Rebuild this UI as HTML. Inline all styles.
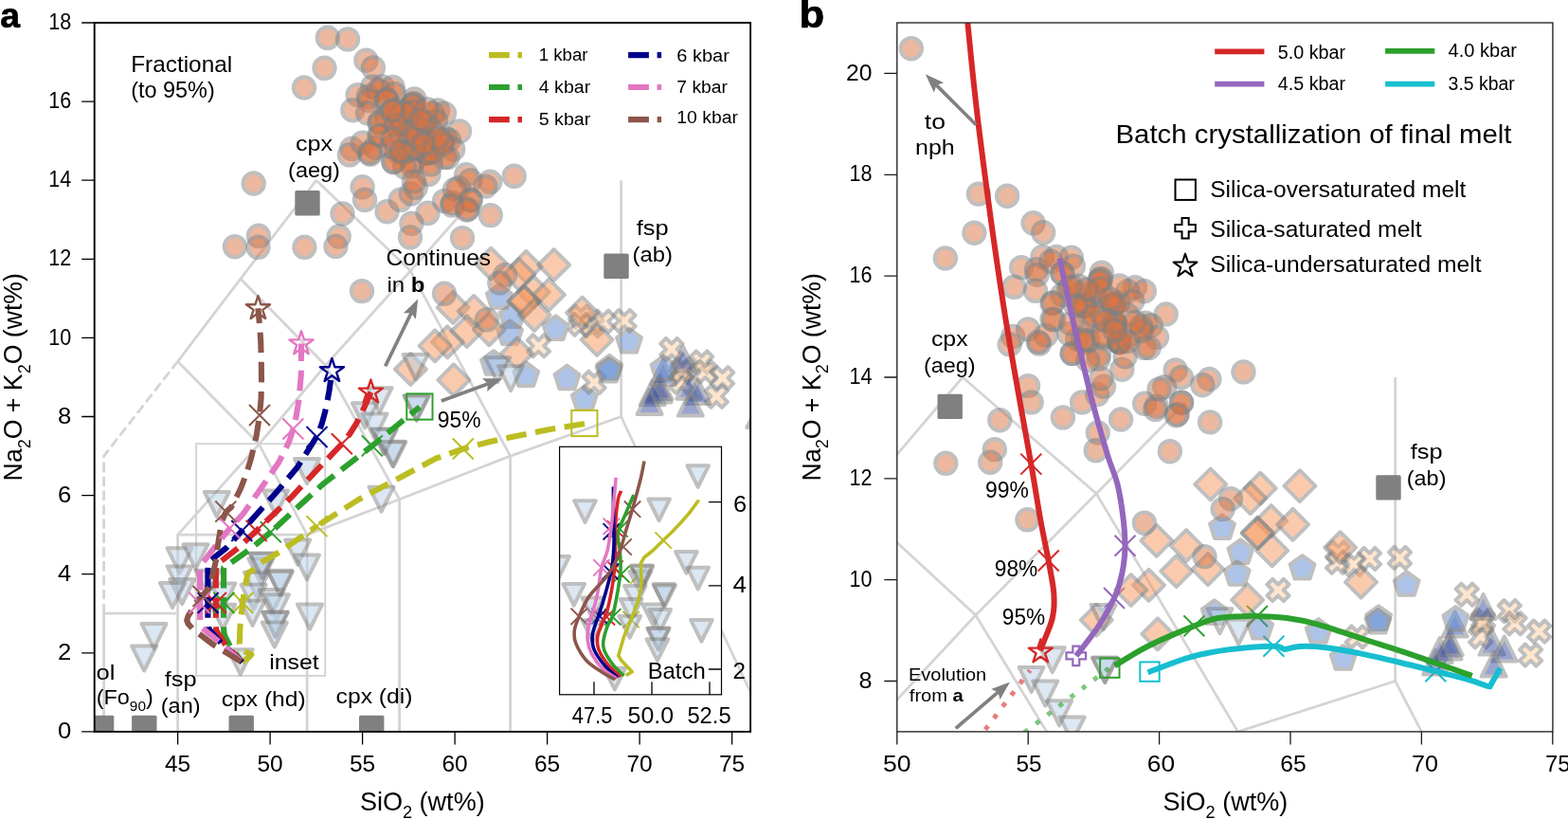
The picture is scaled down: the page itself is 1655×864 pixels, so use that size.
<!DOCTYPE html>
<html><head><meta charset="utf-8"><title>Figure</title>
<style>
html,body{margin:0;padding:0;background:#fff;}
body{width:1655px;height:864px;overflow:hidden;}
svg{display:block;font-family:'Liberation Sans', Arial, Helvetica, sans-serif;fill:#000;}
</style></head>
<body>
<svg width="1655" height="864" viewBox="0 0 1655 864">
<defs>
<circle id="mo" r="11.2" fill="#db7341" stroke="#808080" stroke-width="4.0"/>
<path id="mD" d="M0.00,-16.45L16.45,-0.00L0.00,16.45L-16.45,0.00Z" fill="#f9975b" stroke="#808080" stroke-width="4.0" stroke-linejoin="round"/>
<path id="mp" d="M0.00,-13.60L12.93,-4.20L7.99,11.00L-7.99,11.00L-12.93,-4.20Z" fill="#5d89d1" stroke="#808080" stroke-width="4.0" stroke-linejoin="round"/>
<path id="mX" d="M-5.80,0.00L-11.60,5.80L-5.80,11.60L0.00,5.80L5.80,11.60L11.60,5.80L5.80,0.00L11.60,-5.80L5.80,-11.60L0.00,-5.80L-5.80,-11.60L-11.60,-5.80Z" fill="#ffcd9d" stroke="#808080" stroke-width="4.0" stroke-linejoin="round"/>
<path id="mv" d="M-13.00,-13.00L13.00,-13.00L0.00,13.00Z" fill="#b9d1e7" stroke="#808080" stroke-width="4.0" stroke-linejoin="round"/>
<path id="mw" d="M-11.30,-11.30L11.30,-11.30L0.00,11.30Z" fill="#b9d1e7" stroke="#808080" stroke-width="4.0" stroke-linejoin="round"/>
<path id="mu" d="M-13.00,13.00L13.00,13.00L0.00,-13.00Z" fill="#374da1" stroke="#808080" stroke-width="4.0" stroke-linejoin="round"/>
<rect id="sq" x="-13.2" y="-13.2" width="26.4" height="26.4" rx="1.5" fill="#808080"/>
<clipPath id="ca"><rect x="99.7" y="24" width="692.4" height="747.9"/></clipPath>
<clipPath id="cb"><rect x="946.8" y="24" width="692.1" height="747.9"/></clipPath>
<clipPath id="ci"><rect x="590.6" y="471.3" width="170.9" height="261.5"/></clipPath>
</defs>
<rect width="1655" height="864" fill="#fff"/>
<g clip-path="url(#ca)">
<path d="M109.6,771.9L109.6,647.2L187.6,647.2" fill="none" stroke="#d4d4d4" stroke-width="2.8" stroke-linejoin="round"/>
<path d="M187.6,771.9L187.6,564.1L324.1,564.1" fill="none" stroke="#d4d4d4" stroke-width="2.8" stroke-linejoin="round"/>
<path d="M324.1,771.9L324.1,564.1" fill="none" stroke="#d4d4d4" stroke-width="2.8" stroke-linejoin="round"/>
<path d="M421.6,771.9L421.6,526.8" fill="none" stroke="#d4d4d4" stroke-width="2.8" stroke-linejoin="round"/>
<path d="M538.6,771.9L538.6,481.1" fill="none" stroke="#d4d4d4" stroke-width="2.8" stroke-linejoin="round"/>
<path d="M187.6,564.1L273.4,468.6L343.6,385.5L433.3,285.8L499.6,211.0" fill="none" stroke="#d4d4d4" stroke-width="2.8" stroke-linejoin="round"/>
<path d="M324.1,564.1L421.6,526.8L538.6,481.1L655.6,439.5" fill="none" stroke="#d4d4d4" stroke-width="2.8" stroke-linejoin="round"/>
<path d="M655.6,190.2L655.6,439.5L811.6,771.9" fill="none" stroke="#d4d4d4" stroke-width="2.8" stroke-linejoin="round"/>
<path d="M187.6,381.3L253.9,294.1L333.9,190.2" fill="none" stroke="#d4d4d4" stroke-width="2.8" stroke-linejoin="round"/>
<path d="M187.6,381.3L273.4,468.6L324.1,564.1" fill="none" stroke="#d4d4d4" stroke-width="2.8" stroke-linejoin="round"/>
<path d="M253.9,294.1L343.6,385.5L421.6,526.8" fill="none" stroke="#d4d4d4" stroke-width="2.8" stroke-linejoin="round"/>
<path d="M333.9,190.2L433.3,285.8L538.6,481.1" fill="none" stroke="#d4d4d4" stroke-width="2.8" stroke-linejoin="round"/>
<path d="M109.6,647.2L109.6,481.1L187.6,381.3" fill="none" stroke="#d4d4d4" stroke-width="2.8" stroke-dasharray="10.4 4.5"/>
<rect x="207.1" y="468.2" width="136.1" height="244.7" fill="none" stroke="#d4d4d4" stroke-width="2"/>
<use href="#mX" x="568.4" y="364.8" opacity="0.5"/>
<use href="#mX" x="613.2" y="334.1" opacity="0.5"/>
<use href="#mX" x="612.4" y="342.2" opacity="0.5"/>
<use href="#mX" x="624.9" y="343.8" opacity="0.5"/>
<use href="#mX" x="636.4" y="339.1" opacity="0.5"/>
<use href="#mX" x="659" y="338.4" opacity="0.5"/>
<use href="#mX" x="627.1" y="403.3" opacity="0.5"/>
<use href="#mX" x="721" y="389.3" opacity="0.5"/>
<use href="#mX" x="708.8" y="368.5" opacity="0.5"/>
<use href="#mX" x="740.6" y="382" opacity="0.5"/>
<use href="#mX" x="744.5" y="392.3" opacity="0.5"/>
<use href="#mX" x="762.6" y="398.8" opacity="0.5"/>
<use href="#mX" x="719" y="403.1" opacity="0.5"/>
<use href="#mX" x="756.2" y="418.2" opacity="0.5"/>
<use href="#mX" x="720" y="392.3" opacity="0.5"/>
<use href="#mu" x="695.6" y="411.5" opacity="0.5"/>
<use href="#mu" x="721" y="378.6" opacity="0.5"/>
<use href="#mu" x="696.5" y="408.3" opacity="0.5"/>
<use href="#mu" x="688.7" y="414.2" opacity="0.5"/>
<use href="#mu" x="685.6" y="423.9" opacity="0.5"/>
<use href="#mu" x="727.4" y="407.7" opacity="0.5"/>
<use href="#mu" x="736.7" y="413.1" opacity="0.5"/>
<use href="#mu" x="728.8" y="425.6" opacity="0.5"/>
<use href="#mu" x="700" y="392.9" opacity="0.5"/>
<use href="#mu" x="801.4" y="437.9" opacity="0.5"/>
<use href="#mp" x="526.9" y="313.8" opacity="0.5"/>
<use href="#mp" x="540.5" y="334.1" opacity="0.5"/>
<use href="#mp" x="538" y="351.9" opacity="0.5"/>
<use href="#mp" x="586.5" y="347" opacity="0.5"/>
<use href="#mp" x="521" y="383.8" opacity="0.5"/>
<use href="#mp" x="555.2" y="396" opacity="0.5"/>
<use href="#mp" x="598.5" y="399.2" opacity="0.5"/>
<use href="#mp" x="616.8" y="421.1" opacity="0.5"/>
<use href="#mp" x="643.2" y="388.5" opacity="0.5"/>
<use href="#mp" x="642.7" y="391.4" opacity="0.5"/>
<use href="#mp" x="664" y="360.4" opacity="0.5"/>
<use href="#mp" x="700.5" y="389" opacity="0.5"/>
<use href="#mD" x="518.2" y="278.2" opacity="0.5"/>
<use href="#mD" x="555.2" y="281.4" opacity="0.5"/>
<use href="#mD" x="584.6" y="279.5" opacity="0.5"/>
<use href="#mD" x="547.9" y="289.5" opacity="0.5"/>
<use href="#mD" x="563.3" y="308.1" opacity="0.5"/>
<use href="#mD" x="579.4" y="311" opacity="0.5"/>
<use href="#mD" x="553" y="317.9" opacity="0.5"/>
<use href="#mD" x="553.3" y="318.2" opacity="0.5"/>
<use href="#mD" x="564" y="332.4" opacity="0.5"/>
<use href="#mD" x="478.2" y="324.3" opacity="0.5"/>
<use href="#mD" x="500.2" y="328.4" opacity="0.5"/>
<use href="#mD" x="492.8" y="349.5" opacity="0.5"/>
<use href="#mD" x="516.3" y="347.8" opacity="0.5"/>
<use href="#mD" x="614.6" y="330" opacity="0.5"/>
<use href="#mD" x="630.1" y="358.4" opacity="0.5"/>
<use href="#mD" x="472.3" y="360.8" opacity="0.5"/>
<use href="#mD" x="459.1" y="364.8" opacity="0.5"/>
<use href="#mD" x="545.7" y="372.9" opacity="0.5"/>
<use href="#mD" x="478.9" y="400.8" opacity="0.5"/>
<use href="#mD" x="433.4" y="389.5" opacity="0.5"/>
<use href="#mo" x="267.7" y="193.5" opacity="0.5"/>
<use href="#mo" x="247.9" y="260.2" opacity="0.5"/>
<use href="#mo" x="272.9" y="248.8" opacity="0.5"/>
<use href="#mo" x="272.5" y="260.8" opacity="0.5"/>
<use href="#mo" x="295.7" y="-79.5" opacity="0.5"/>
<use href="#mo" x="345.8" y="39.8" opacity="0.5"/>
<use href="#mo" x="367" y="41.4" opacity="0.5"/>
<use href="#mo" x="342.5" y="71.8" opacity="0.5"/>
<use href="#mo" x="321" y="92.5" opacity="0.5"/>
<use href="#mo" x="386.4" y="63.7" opacity="0.5"/>
<use href="#mo" x="393.9" y="71.4" opacity="0.5"/>
<use href="#mo" x="393.2" y="91.4" opacity="0.5"/>
<use href="#mo" x="403.5" y="91.4" opacity="0.5"/>
<use href="#mo" x="414.7" y="92" opacity="0.5"/>
<use href="#mo" x="377.6" y="100.1" opacity="0.5"/>
<use href="#mo" x="388.8" y="101.7" opacity="0.5"/>
<use href="#mo" x="399.6" y="95.2" opacity="0.5"/>
<use href="#mo" x="416.2" y="99" opacity="0.5"/>
<use href="#mo" x="389.3" y="106" opacity="0.5"/>
<use href="#mo" x="407.9" y="104.9" opacity="0.5"/>
<use href="#mo" x="437.3" y="104.4" opacity="0.5"/>
<use href="#mo" x="436.3" y="110.3" opacity="0.5"/>
<use href="#mo" x="372.3" y="116.2" opacity="0.5"/>
<use href="#mo" x="388.1" y="119.3" opacity="0.5"/>
<use href="#mo" x="408.1" y="105.1" opacity="0.5"/>
<use href="#mo" x="401" y="128.8" opacity="0.5"/>
<use href="#mo" x="408.1" y="122.5" opacity="0.5"/>
<use href="#mo" x="401.7" y="143.1" opacity="0.5"/>
<use href="#mo" x="421.1" y="120.9" opacity="0.5"/>
<use href="#mo" x="424.6" y="132" opacity="0.5"/>
<use href="#mo" x="432.5" y="124.1" opacity="0.5"/>
<use href="#mo" x="446.2" y="130.4" opacity="0.5"/>
<use href="#mo" x="446.9" y="145.5" opacity="0.5"/>
<use href="#mo" x="462.1" y="116.4" opacity="0.5"/>
<use href="#mo" x="469" y="119.6" opacity="0.5"/>
<use href="#mo" x="456.7" y="119.6" opacity="0.5"/>
<use href="#mo" x="460.1" y="127.7" opacity="0.5"/>
<use href="#mo" x="432.8" y="125" opacity="0.5"/>
<use href="#mo" x="485.1" y="138.5" opacity="0.5"/>
<use href="#mo" x="469.9" y="145.6" opacity="0.5"/>
<use href="#mo" x="473.8" y="147.7" opacity="0.5"/>
<use href="#mo" x="446.4" y="146.6" opacity="0.5"/>
<use href="#mo" x="431.8" y="144.5" opacity="0.5"/>
<use href="#mo" x="478.2" y="157.4" opacity="0.5"/>
<use href="#mo" x="450.9" y="161.8" opacity="0.5"/>
<use href="#mo" x="469" y="166.1" opacity="0.5"/>
<use href="#mo" x="472.4" y="166.1" opacity="0.5"/>
<use href="#mo" x="424.9" y="161.8" opacity="0.5"/>
<use href="#mo" x="435.2" y="171.5" opacity="0.5"/>
<use href="#mo" x="420" y="115.3" opacity="0.5"/>
<use href="#mo" x="371.3" y="156.8" opacity="0.5"/>
<use href="#mo" x="368.9" y="163.3" opacity="0.5"/>
<use href="#mo" x="382.6" y="150.8" opacity="0.5"/>
<use href="#mo" x="390.9" y="162.7" opacity="0.5"/>
<use href="#mo" x="395.8" y="155.7" opacity="0.5"/>
<use href="#mo" x="415.3" y="170.8" opacity="0.5"/>
<use href="#mo" x="419.2" y="158.9" opacity="0.5"/>
<use href="#mo" x="434.9" y="175.2" opacity="0.5"/>
<use href="#mo" x="427.1" y="176.2" opacity="0.5"/>
<use href="#mo" x="452.5" y="183.8" opacity="0.5"/>
<use href="#mo" x="450.6" y="161.1" opacity="0.5"/>
<use href="#mo" x="382.6" y="197.3" opacity="0.5"/>
<use href="#mo" x="385" y="210.8" opacity="0.5"/>
<use href="#mo" x="361.5" y="225.4" opacity="0.5"/>
<use href="#mo" x="408.5" y="223.2" opacity="0.5"/>
<use href="#mo" x="422.7" y="210.8" opacity="0.5"/>
<use href="#mo" x="433.9" y="204.3" opacity="0.5"/>
<use href="#mo" x="438.8" y="197.8" opacity="0.5"/>
<use href="#mo" x="436.9" y="191.4" opacity="0.5"/>
<use href="#mo" x="451.5" y="224.8" opacity="0.5"/>
<use href="#mo" x="469.1" y="211.9" opacity="0.5"/>
<use href="#mo" x="478" y="214" opacity="0.5"/>
<use href="#mo" x="492.1" y="184.3" opacity="0.5"/>
<use href="#mo" x="496.5" y="190.3" opacity="0.5"/>
<use href="#mo" x="496.5" y="210.8" opacity="0.5"/>
<use href="#mo" x="493.6" y="220.5" opacity="0.5"/>
<use href="#mo" x="542.7" y="185.8" opacity="0.5"/>
<use href="#mo" x="517.3" y="191.8" opacity="0.5"/>
<use href="#mo" x="512.4" y="196.6" opacity="0.5"/>
<use href="#mo" x="484" y="198.3" opacity="0.5"/>
<use href="#mo" x="480.1" y="199.9" opacity="0.5"/>
<use href="#mo" x="496.7" y="211.2" opacity="0.5"/>
<use href="#mo" x="477.2" y="216.6" opacity="0.5"/>
<use href="#mo" x="492.8" y="221.5" opacity="0.5"/>
<use href="#mo" x="517.8" y="227.1" opacity="0.5"/>
<use href="#mo" x="357.7" y="249.5" opacity="0.5"/>
<use href="#mo" x="321.4" y="260.8" opacity="0.5"/>
<use href="#mo" x="354.4" y="260" opacity="0.5"/>
<use href="#mo" x="434.4" y="235.7" opacity="0.5"/>
<use href="#mo" x="433" y="250.3" opacity="0.5"/>
<use href="#mo" x="488" y="251.1" opacity="0.5"/>
<use href="#mo" x="382" y="307.1" opacity="0.5"/>
<use href="#mo" x="533.2" y="290" opacity="0.5"/>
<use href="#mo" x="527.3" y="298.4" opacity="0.5"/>
<use href="#mo" x="469" y="309.8" opacity="0.5"/>
<use href="#mo" x="513.8" y="337.3" opacity="0.5"/>
<use href="#mo" x="424.3" y="131.5" opacity="0.5"/>
<use href="#mo" x="424.6" y="131.4" opacity="0.5"/>
<use href="#mo" x="424.5" y="131.6" opacity="0.5"/>
<use href="#mo" x="446.1" y="130.3" opacity="0.5"/>
<use href="#mo" x="446.1" y="130.3" opacity="0.5"/>
<use href="#mo" x="446.1" y="130" opacity="0.5"/>
<use href="#mo" x="447.2" y="146.5" opacity="0.5"/>
<use href="#mo" x="447" y="146" opacity="0.5"/>
<use href="#mo" x="447.4" y="146.6" opacity="0.5"/>
<use href="#mo" x="449.9" y="161.1" opacity="0.5"/>
<use href="#mo" x="450.1" y="160.9" opacity="0.5"/>
<use href="#mo" x="450.1" y="161.1" opacity="0.5"/>
<use href="#mo" x="432.7" y="119.9" opacity="0.5"/>
<use href="#mo" x="400.5" y="129.7" opacity="0.5"/>
<use href="#mo" x="400.4" y="142.5" opacity="0.5"/>
<use href="#mo" x="427.2" y="160.1" opacity="0.5"/>
<use href="#mo" x="415.4" y="170.7" opacity="0.5"/>
<use href="#mo" x="436.5" y="109.3" opacity="0.5"/>
<use href="#mo" x="390.1" y="161.2" opacity="0.5"/>
<use href="#mo" x="435.4" y="111.5" opacity="0.5"/>
<use href="#mo" x="424" y="145" opacity="0.5"/>
<use href="#mo" x="413" y="154.6" opacity="0.5"/>
<use href="#mo" x="438.6" y="157.6" opacity="0.5"/>
<use href="#mo" x="458.6" y="154.7" opacity="0.5"/>
<use href="#mo" x="412.9" y="117.7" opacity="0.5"/>
<use href="#mo" x="437" y="137" opacity="0.5"/>
<use href="#mo" x="456.4" y="139.1" opacity="0.5"/>
<use href="#mo" x="437.6" y="155.8" opacity="0.5"/>
<use href="#mo" x="431.5" y="139.5" opacity="0.5"/>
<use href="#mo" x="454.7" y="173.3" opacity="0.5"/>
<use href="#mo" x="439.5" y="143.6" opacity="0.5"/>
<use href="#mo" x="456.6" y="160.7" opacity="0.5"/>
<use href="#mo" x="466.6" y="148.5" opacity="0.5"/>
<use href="#mo" x="436.5" y="117.4" opacity="0.5"/>
<use href="#mo" x="449.6" y="129.1" opacity="0.5"/>
<use href="#mo" x="426" y="118.3" opacity="0.5"/>
<use href="#mo" x="418" y="131.4" opacity="0.5"/>
<use href="#mo" x="450.6" y="115.2" opacity="0.5"/>
<use href="#mo" x="414.4" y="146.3" opacity="0.5"/>
<use href="#mo" x="466.9" y="152.2" opacity="0.5"/>
<use href="#mo" x="414.5" y="116" opacity="0.5"/>
<use href="#mo" x="443.7" y="126.3" opacity="0.5"/>
<use href="#mo" x="423.3" y="159.6" opacity="0.5"/>
<use href="#mo" x="462" y="145.1" opacity="0.5"/>
<use href="#mo" x="447.1" y="151.7" opacity="0.5"/>
<use href="#mv" x="189.5" y="591.3" opacity="0.5"/>
<use href="#mv" x="189.5" y="610.4" opacity="0.5"/>
<use href="#mv" x="192.2" y="624" opacity="0.5"/>
<use href="#mv" x="182" y="628.1" opacity="0.5"/>
<use href="#mv" x="162.5" y="671.1" opacity="0.5"/>
<use href="#mv" x="152.1" y="694.5" opacity="0.5"/>
<use href="#mv" x="414.3" y="478.8" opacity="0.5"/>
<use href="#mv" x="402.5" y="526.7" opacity="0.5"/>
<use href="#mv" x="405.3" y="465.5" opacity="0.5"/>
<use href="#mv" x="228.8" y="532" opacity="0.5"/>
<use href="#mv" x="291.1" y="530.4" opacity="0.5"/>
<use href="#mv" x="324" y="497.1" opacity="0.5"/>
<use href="#mv" x="314.2" y="582.6" opacity="0.5"/>
<use href="#mv" x="324" y="598.4" opacity="0.5"/>
<use href="#mv" x="295.4" y="614.7" opacity="0.5"/>
<use href="#mv" x="295.9" y="616" opacity="0.5"/>
<use href="#mv" x="277" y="597" opacity="0.5"/>
<use href="#mv" x="275.4" y="602.3" opacity="0.5"/>
<use href="#mv" x="270.9" y="616.7" opacity="0.5"/>
<use href="#mv" x="267.6" y="629.8" opacity="0.5"/>
<use href="#mv" x="286.5" y="635" opacity="0.5"/>
<use href="#mv" x="292" y="640.2" opacity="0.5"/>
<use href="#mv" x="266.5" y="646.8" opacity="0.5"/>
<use href="#mv" x="290.9" y="658.5" opacity="0.5"/>
<use href="#mv" x="219.3" y="614.7" opacity="0.5"/>
<use href="#mv" x="235.4" y="628.4" opacity="0.5"/>
<use href="#mv" x="276.5" y="596.4" opacity="0.5"/>
<use href="#mv" x="235.4" y="650.7" opacity="0.5"/>
<use href="#mv" x="327" y="650.6" opacity="0.5"/>
<use href="#mv" x="290.4" y="659.1" opacity="0.5"/>
<use href="#mv" x="289.8" y="669.5" opacity="0.5"/>
<use href="#mv" x="253.7" y="698.3" opacity="0.5"/>
<use href="#mv" x="206.5" y="587.2" opacity="0.5"/>
<use href="#mv" x="525.1" y="390.3" opacity="0.5"/>
<use href="#mv" x="539.1" y="399.2" opacity="0.5"/>
<use href="#mv" x="438.5" y="387" opacity="0.5"/>
<use href="#mv" x="439.8" y="430.7" opacity="0.5"/>
<use href="#mv" x="439.5" y="430.3" opacity="0.5"/>
<use href="#mv" x="400.6" y="422.2" opacity="0.5"/>
<use href="#mv" x="385" y="438.3" opacity="0.5"/>
<use href="#mv" x="395.4" y="449.6" opacity="0.5"/>
<use href="#mv" x="405.8" y="465.8" opacity="0.5"/>
<use href="#mv" x="415.4" y="479.2" opacity="0.5"/>
<use href="#sq" x="107.1" y="768"/>
<use href="#sq" x="152.3" y="768"/>
<use href="#sq" x="254.7" y="768"/>
<use href="#sq" x="392.2" y="768"/>
<use href="#sq" x="324.5" y="214.3"/>
<use href="#sq" x="650.5" y="280.8"/>
<path d="M255.5,698.5L262.0,694.0L265.4,690.6L259.0,687.5L254.0,683.5L252.8,679.4L253.5,659.3L256.2,635.7L258.3,619.7L261.8,604.4L266.7,601.7L273.6,594.7L293.0,583.6L334.4,555.1" fill="none" stroke="#bcbd22" stroke-width="6.1" stroke-dasharray="21.6 9.6" stroke-dashoffset="0.7" stroke-linejoin="round"/>
<path d="M617.0,447.0L580.0,453.0L540.0,461.0L515.0,466.5L488.8,473.5L460.0,483.6L420.0,505.0L378.9,526.7L334.4,555.1" fill="none" stroke="#bcbd22" stroke-width="6.1" stroke-dasharray="21.6 9.6" stroke-dashoffset="0" stroke-linejoin="round"/>
<path d="M255.5,698.5L243.0,682.0L237.8,672.0L236.5,668.0L236.1,663.0L236.1,599.0L244.4,593.3L263.9,579.4L285.8,561.4" fill="none" stroke="#2ca02c" stroke-width="6.1" stroke-dasharray="21.6 9.6" stroke-dashoffset="9.9" stroke-linejoin="round"/>
<path d="M443.0,429.4L420.0,448.0L392.8,470.4L340.0,511.4L285.8,561.4" fill="none" stroke="#2ca02c" stroke-width="6.1" stroke-dasharray="21.6 9.6" stroke-dashoffset="9.2" stroke-linejoin="round"/>
<path d="M255.5,698.5L238.0,680.0L230.0,668.0L228.2,664.5L227.8,660.0L227.8,602.0L228.2,598.5L230.0,595.0L233.3,592.0L251.4,578.0L270.6,560.0" fill="none" stroke="#d62728" stroke-width="6.1" stroke-dasharray="21.6 9.6" stroke-dashoffset="5.8" stroke-linejoin="round"/>
<path d="M391.4,413.7L387.0,424.0L382.0,435.0L376.0,447.0L369.0,458.0L360.8,468.3L330.3,500.3L306.7,525.3L270.6,560.0" fill="none" stroke="#d62728" stroke-width="6.1" stroke-dasharray="21.6 9.6" stroke-dashoffset="0" stroke-linejoin="round"/>
<path d="M255.5,698.5L234.0,679.0L222.0,665.5L219.9,662.0L219.4,657.0L219.4,602.0L219.6,598.0L221.0,594.5L222.2,591.2L238.9,578.0L255.3,560.0" fill="none" stroke="#00008b" stroke-width="6.1" stroke-dasharray="21.6 9.6" stroke-dashoffset="0.9" stroke-linejoin="round"/>
<path d="M350.4,391.3L347.5,412.0L345.5,423.0L343.0,435.0L340.0,446.0L335.8,458.0L330.3,467.0L313.6,493.3L291.4,519.7L255.3,560.0" fill="none" stroke="#00008b" stroke-width="6.1" stroke-dasharray="21.6 9.6" stroke-dashoffset="21.6" stroke-linejoin="round"/>
<path d="M255.5,698.5L229.2,675.3L213.9,662.8L211.6,659.0L211.1,654.4L211.1,602.4L211.4,598.0L213.0,595.0L227.1,576.7L242.5,557.3" fill="none" stroke="#e377c2" stroke-width="6.1" stroke-dasharray="21.6 9.6" stroke-dashoffset="29.3" stroke-linejoin="round"/>
<path d="M318.0,362.5L317.8,395.0L316.5,410.0L315.0,425.0L312.5,440.0L309.4,452.5L305.3,465.6L294.2,487.8L276.1,514.2L256.7,542.0L242.5,557.3" fill="none" stroke="#e377c2" stroke-width="6.1" stroke-dasharray="21.6 9.6" stroke-dashoffset="3.0" stroke-linejoin="round"/>
<path d="M255.5,698.5L225.0,680.0L209.7,668.3L202.8,662.8L198.5,658.0L197.2,654.4L198.5,650.0L202.8,643.3L205.6,637.1L222.6,618.3L223.4,612.0L224.0,607.9L228.9,587.8L229.6,577.4L232.4,560.0L234.5,549.0L238.5,540.0" fill="none" stroke="#8c564b" stroke-width="6.1" stroke-dasharray="21.6 9.6" stroke-dashoffset="29.8" stroke-linejoin="round"/>
<path d="M272.4,325.3L274.2,345.0L275.2,360.0L275.8,381.7L276.0,400.0L275.6,420.0L274.0,438.0L270.6,460.0L265.0,483.6L260.0,500.0L253.9,515.6L244.2,535.0L238.5,540.0" fill="none" stroke="#8c564b" stroke-width="6.1" stroke-dasharray="21.6 9.6" stroke-dashoffset="5.8" stroke-linejoin="round"/>
<path d="M245.2,625l22,22M245.2,647l22,-22" stroke="#bcbd22" stroke-width="2.0" fill="none"/>
<path d="M323.4,544.1l22,22M323.4,566.1l22,-22" stroke="#bcbd22" stroke-width="2.0" fill="none"/>
<path d="M477.8,462.5l22,22M477.8,484.5l22,-22" stroke="#bcbd22" stroke-width="2.0" fill="none"/>
<rect x="603.3" y="432.9" width="27.2" height="27.2" fill="none" stroke="#bcbd22" stroke-width="2.0"/>
<path d="M225.3,625l22,22M225.3,647l22,-22" stroke="#2ca02c" stroke-width="2.0" fill="none"/>
<path d="M274.8,550.4l22,22M274.8,572.4l22,-22" stroke="#2ca02c" stroke-width="2.0" fill="none"/>
<path d="M381.8,459.4l22,22M381.8,481.4l22,-22" stroke="#2ca02c" stroke-width="2.0" fill="none"/>
<rect x="429.3" y="415.4" width="27.2" height="27.2" fill="none" stroke="#2ca02c" stroke-width="2.0"/>
<path d="M216.9,625l22,22M216.9,647l22,-22" stroke="#d62728" stroke-width="2.0" fill="none"/>
<path d="M259.6,549l22,22M259.6,571l22,-22" stroke="#d62728" stroke-width="2.0" fill="none"/>
<path d="M349.8,457.3l22,22M349.8,479.3l22,-22" stroke="#d62728" stroke-width="2.0" fill="none"/>
<path d="M0.00,-13.20L2.96,-4.08L12.55,-4.08L4.80,1.56L7.76,10.68L0.00,5.04L-7.76,10.68L-4.80,1.56L-12.55,-4.08L-2.96,-4.08Z" transform="translate(391.4,413.7)" fill="none" stroke="#d62728" stroke-width="2.4" stroke-linejoin="round"/>
<path d="M208.6,625l22,22M208.6,647l22,-22" stroke="#00008b" stroke-width="2.0" fill="none"/>
<path d="M244.3,549l22,22M244.3,571l22,-22" stroke="#00008b" stroke-width="2.0" fill="none"/>
<path d="M323.5,450l22,22M323.5,472l22,-22" stroke="#00008b" stroke-width="2.0" fill="none"/>
<path d="M0.00,-13.20L2.96,-4.08L12.55,-4.08L4.80,1.56L7.76,10.68L0.00,5.04L-7.76,10.68L-4.80,1.56L-12.55,-4.08L-2.96,-4.08Z" transform="translate(350.4,391.3)" fill="none" stroke="#00008b" stroke-width="2.4" stroke-linejoin="round"/>
<path d="M199.5,625l22,22M199.5,647l22,-22" stroke="#e377c2" stroke-width="2.0" fill="none"/>
<path d="M231.5,546.3l22,22M231.5,568.3l22,-22" stroke="#e377c2" stroke-width="2.0" fill="none"/>
<path d="M298.4,441.5l22,22M298.4,463.5l22,-22" stroke="#e377c2" stroke-width="2.0" fill="none"/>
<path d="M0.00,-13.20L2.96,-4.08L12.55,-4.08L4.80,1.56L7.76,10.68L0.00,5.04L-7.76,10.68L-4.80,1.56L-12.55,-4.08L-2.96,-4.08Z" transform="translate(318,362.5)" fill="none" stroke="#e377c2" stroke-width="2.4" stroke-linejoin="round"/>
<path d="M203.5,618l22,22M203.5,640l22,-22" stroke="#8c564b" stroke-width="2.0" fill="none"/>
<path d="M227.3,528.6l22,22M227.3,550.6l22,-22" stroke="#8c564b" stroke-width="2.0" fill="none"/>
<path d="M263,427l22,22M263,449l22,-22" stroke="#8c564b" stroke-width="2.0" fill="none"/>
<path d="M0.00,-13.20L2.96,-4.08L12.55,-4.08L4.80,1.56L7.76,10.68L0.00,5.04L-7.76,10.68L-4.80,1.56L-12.55,-4.08L-2.96,-4.08Z" transform="translate(272.4,325.3)" fill="none" stroke="#8c564b" stroke-width="2.4" stroke-linejoin="round"/>
</g>
<path d="M406.7,386.2L434,330.2" stroke="#808080" stroke-width="3.7" fill="none"/>
<path d="M441.2,315.5L438.9,336.7L434,330.2L425.9,330.3Z" fill="#808080"/>
<path d="M465.8,423.1L515,404.9" stroke="#808080" stroke-width="3.7" fill="none"/>
<path d="M530.4,399.2L514.2,412.9L515,404.9L509.1,399.3Z" fill="#808080"/>
<rect x="590.6" y="471.3" width="170.9" height="261.5" fill="#fff"/>
<g clip-path="url(#ci)">
<path d="M657.4,644.9l17.4,17.4M657.4,662.3l17.4,-17.4" stroke="#bcbd22" stroke-width="1.9" fill="none"/>
<path d="M665.3,598.3l17.4,17.4M665.3,615.7l17.4,-17.4" stroke="#bcbd22" stroke-width="1.9" fill="none"/>
<path d="M691.4,561.3l17.4,17.4M691.4,578.7l17.4,-17.4" stroke="#bcbd22" stroke-width="1.9" fill="none"/>
<path d="M638,642.1l17.4,17.4M638,659.5l17.4,-17.4" stroke="#2ca02c" stroke-width="1.9" fill="none"/>
<path d="M647,597.1l17.4,17.4M647,614.5l17.4,-17.4" stroke="#2ca02c" stroke-width="1.9" fill="none"/>
<path d="M645.3,549.3l17.4,17.4M645.3,566.7l17.4,-17.4" stroke="#2ca02c" stroke-width="1.9" fill="none"/>
<path d="M631.7,642.1l17.4,17.4M631.7,659.5l17.4,-17.4" stroke="#d62728" stroke-width="1.9" fill="none"/>
<path d="M640.3,591.3l17.4,17.4M640.3,608.7l17.4,-17.4" stroke="#d62728" stroke-width="1.9" fill="none"/>
<path d="M640.7,549.3l17.4,17.4M640.7,566.7l17.4,-17.4" stroke="#d62728" stroke-width="1.9" fill="none"/>
<path d="M624.3,641.3l17.4,17.4M624.3,658.7l17.4,-17.4" stroke="#00008b" stroke-width="1.9" fill="none"/>
<path d="M635.3,594.3l17.4,17.4M635.3,611.7l17.4,-17.4" stroke="#00008b" stroke-width="1.9" fill="none"/>
<path d="M636.6,552.1l17.4,17.4M636.6,569.5l17.4,-17.4" stroke="#00008b" stroke-width="1.9" fill="none"/>
<path d="M617.3,639.3l17.4,17.4M617.3,656.7l17.4,-17.4" stroke="#e377c2" stroke-width="1.9" fill="none"/>
<path d="M626.2,590.2l17.4,17.4M626.2,607.6l17.4,-17.4" stroke="#e377c2" stroke-width="1.9" fill="none"/>
<path d="M636.6,546.6l17.4,17.4M636.6,564l17.4,-17.4" stroke="#e377c2" stroke-width="1.9" fill="none"/>
<path d="M602.5,641.6l17.4,17.4M602.5,659l17.4,-17.4" stroke="#8c564b" stroke-width="1.9" fill="none"/>
<path d="M649.3,568.3l17.4,17.4M649.3,585.7l17.4,-17.4" stroke="#8c564b" stroke-width="1.9" fill="none"/>
<path d="M658.8,528.5l17.4,17.4M658.8,545.9l17.4,-17.4" stroke="#8c564b" stroke-width="1.9" fill="none"/>
<use href="#mw" x="617.5" y="539.6" opacity="0.5"/>
<use href="#mw" x="695.6" y="537.9" opacity="0.5"/>
<use href="#mw" x="736.7" y="502.5" opacity="0.5"/>
<use href="#mw" x="724.4" y="593.3" opacity="0.5"/>
<use href="#mw" x="736.7" y="610" opacity="0.5"/>
<use href="#mw" x="700.8" y="627.4" opacity="0.5"/>
<use href="#mw" x="701.5" y="628.8" opacity="0.5"/>
<use href="#mw" x="677.9" y="608.6" opacity="0.5"/>
<use href="#mw" x="675.8" y="614.2" opacity="0.5"/>
<use href="#mw" x="670.3" y="629.4" opacity="0.5"/>
<use href="#mw" x="666.1" y="643.3" opacity="0.5"/>
<use href="#mw" x="689.7" y="648.9" opacity="0.5"/>
<use href="#mw" x="696.7" y="654.4" opacity="0.5"/>
<use href="#mw" x="664.7" y="661.4" opacity="0.5"/>
<use href="#mw" x="695.3" y="673.9" opacity="0.5"/>
<use href="#mw" x="605.7" y="627.4" opacity="0.5"/>
<use href="#mw" x="625.8" y="641.9" opacity="0.5"/>
<use href="#mw" x="677.2" y="607.9" opacity="0.5"/>
<use href="#mw" x="625.8" y="665.6" opacity="0.5"/>
<use href="#mw" x="740.4" y="665.4" opacity="0.5"/>
<use href="#mw" x="694.6" y="674.4" opacity="0.5"/>
<use href="#mw" x="693.9" y="685.6" opacity="0.5"/>
<use href="#mw" x="648.8" y="716.1" opacity="0.5"/>
<use href="#mw" x="589.7" y="598.2" opacity="0.5"/>
<path d="M660.8,712.4L667.2,708.8L655.9,696.7L652.7,691.8L658.3,672.4L665.6,654.6L673.7,633.5L676.5,620.0L677.0,612.4L676.2,594.6L680.0,588.0L689.9,580.0L700.1,570.0L710.0,560.5L718.9,551.1L728.5,540.0L737.6,527.5" fill="none" stroke="#bcbd22" stroke-width="3.6" stroke-linejoin="round"/>
<path d="M658.5,713.0C656.5,711.0 650.2,705.4 646.7,700.8C643.2,696.2 639.2,689.8 637.6,685.6C636.0,681.4 636.3,680.0 636.9,675.8C637.5,671.6 639.5,665.0 641.1,660.6C642.7,656.2 644.9,655.9 646.7,649.5C648.6,643.1 650.8,630.5 652.2,622.5C653.6,614.5 654.6,608.7 655.0,601.7C655.4,594.8 654.8,587.2 654.3,580.8C653.8,574.3 651.2,569.6 652.2,563.0C653.2,556.4 657.8,548.2 660.6,541.4C663.4,534.6 667.5,525.2 668.9,522.0" fill="none" stroke="#2ca02c" stroke-width="3.6" stroke-linejoin="round"/>
<path d="M655.0,714.0C652.9,712.0 646.3,706.9 642.5,702.2C638.7,697.5 634.1,690.7 632.1,685.6C630.1,680.5 630.1,676.3 630.7,671.7C631.3,667.1 633.9,662.5 635.6,657.8C637.3,653.1 639.2,650.3 641.1,643.3C643.0,636.3 645.3,624.9 646.7,615.6C648.1,606.4 649.0,597.9 649.4,587.8C649.8,577.7 648.9,565.0 649.4,555.0C649.9,545.0 651.2,533.7 652.2,527.5C653.2,521.3 655.1,519.4 655.7,517.8" fill="none" stroke="#d62728" stroke-width="3.6" stroke-linejoin="round"/>
<path d="M652.0,715.0C649.7,712.9 642.4,707.1 638.3,702.2C634.2,697.3 629.4,690.7 627.2,685.6C625.0,680.5 625.0,676.0 625.1,671.7C625.2,667.4 626.2,665.6 628.0,660.0C629.8,654.4 632.7,647.5 635.6,637.8C638.5,628.1 643.2,612.4 645.3,601.7C647.4,591.1 647.6,583.4 648.0,573.9C648.4,564.4 647.6,555.0 647.5,545.0C647.4,535.0 647.4,518.8 647.4,513.6" fill="none" stroke="#00008b" stroke-width="3.6" stroke-linejoin="round"/>
<path d="M650.8,715.8C648.3,714.0 640.0,709.4 635.6,705.0C631.2,700.6 627.0,694.6 624.4,689.7C621.8,684.8 620.9,680.4 620.3,675.8C619.7,671.2 619.4,669.7 621.0,662.0C622.6,654.3 627.7,639.9 630.0,629.4C632.3,618.9 633.0,607.0 634.9,598.9C636.8,590.8 639.4,588.1 641.1,580.8C642.8,573.5 644.1,564.2 645.3,555.3C646.4,546.4 647.2,536.1 648.0,527.5C648.8,518.9 649.8,507.8 650.1,503.9" fill="none" stroke="#e377c2" stroke-width="3.6" stroke-linejoin="round"/>
<path d="M649.4,716.8C647.1,715.5 640.7,712.6 635.6,709.2C630.5,705.9 623.5,701.8 618.9,696.7C614.3,691.6 609.9,683.9 607.8,678.6C605.7,673.3 605.8,669.4 606.4,664.7C607.0,660.0 608.7,656.2 611.2,650.3C613.8,644.4 616.7,636.6 621.7,629.4C626.7,622.2 636.0,614.1 641.1,607.2C646.2,600.3 649.0,595.7 652.2,587.8C655.5,579.9 658.1,568.4 660.6,560.0C663.1,551.6 665.0,546.1 667.5,537.2C670.0,528.3 673.7,515.1 675.8,506.7C677.9,498.2 679.3,489.9 680.0,486.5" fill="none" stroke="#8c564b" stroke-width="3.6" stroke-linejoin="round"/>
</g>
<rect x="590.6" y="471.3" width="170.9" height="261.5" fill="none" stroke="#000" stroke-width="1.2"/>
<path d="M627,732.8v-13.6M688,732.8v-13.6M749,732.8v-13.6M761.5,706h-13.6M761.5,617.8h-13.6M761.5,529.6h-13.6" stroke="#000" stroke-width="1.3" fill="none"/>
<text x="603.8" y="762.9" font-size="23.2" textLength="42.5" lengthAdjust="spacingAndGlyphs">47.5</text>
<text x="662.6" y="762.9" font-size="23.2" textLength="48.5" lengthAdjust="spacingAndGlyphs">50.0</text>
<text x="725.4" y="762.9" font-size="23.2" textLength="46.2" lengthAdjust="spacingAndGlyphs">52.5</text>
<text x="773.5" y="716.2" font-size="23.2" textLength="13.5" lengthAdjust="spacingAndGlyphs">2</text>
<text x="773.5" y="624.6" font-size="23.2" textLength="14.5" lengthAdjust="spacingAndGlyphs">4</text>
<text x="774" y="540" font-size="23.2" textLength="14.2" lengthAdjust="spacingAndGlyphs">6</text>
<text x="683.7" y="715.6" font-size="23.2" textLength="61" lengthAdjust="spacingAndGlyphs">Batch</text>
<g clip-path="url(#cb)">
<path d="M697.7,1145.8L697.7,985.6L808.4,985.6" fill="none" stroke="#d4d4d4" stroke-width="2.8" stroke-linejoin="round"/>
<path d="M808.4,1145.8L808.4,878.7L1002.2,878.7" fill="none" stroke="#d4d4d4" stroke-width="2.8" stroke-linejoin="round"/>
<path d="M1002.2,1145.8L1002.2,878.7" fill="none" stroke="#d4d4d4" stroke-width="2.8" stroke-linejoin="round"/>
<path d="M1140.6,1145.8L1140.6,830.7" fill="none" stroke="#d4d4d4" stroke-width="2.8" stroke-linejoin="round"/>
<path d="M1306.6,1145.8L1306.6,771.9" fill="none" stroke="#d4d4d4" stroke-width="2.8" stroke-linejoin="round"/>
<path d="M808.4,878.7L930.2,755.9L1029.8,649.0L1157.2,520.8L1251.3,424.7" fill="none" stroke="#d4d4d4" stroke-width="2.8" stroke-linejoin="round"/>
<path d="M1002.2,878.7L1140.6,830.7L1306.6,771.9L1472.7,718.5" fill="none" stroke="#d4d4d4" stroke-width="2.8" stroke-linejoin="round"/>
<path d="M1472.7,398.0L1472.7,718.5L1694.2,1145.8" fill="none" stroke="#d4d4d4" stroke-width="2.8" stroke-linejoin="round"/>
<path d="M808.4,643.7L902.5,531.5L1016.0,398.0" fill="none" stroke="#d4d4d4" stroke-width="2.8" stroke-linejoin="round"/>
<path d="M808.4,643.7L930.2,755.9L1002.2,878.7" fill="none" stroke="#d4d4d4" stroke-width="2.8" stroke-linejoin="round"/>
<path d="M902.5,531.5L1029.8,649.0L1140.6,830.7" fill="none" stroke="#d4d4d4" stroke-width="2.8" stroke-linejoin="round"/>
<path d="M1016.0,398.0L1157.2,520.8L1306.6,771.9" fill="none" stroke="#d4d4d4" stroke-width="2.8" stroke-linejoin="round"/>
<path d="M697.7,985.6L697.7,771.9L808.4,643.7" fill="none" stroke="#d4d4d4" stroke-width="2.8" stroke-dasharray="10.4 4.5"/>
<path d="M1333.4,670.7l22,22M1333.4,692.7l22,-22" stroke="#17becf" stroke-width="2.0" fill="none"/>
<path d="M1504.3,697.2l22,22M1504.3,719.2l22,-22" stroke="#17becf" stroke-width="2.0" fill="none"/>
<path d="M1249.4,649.4l22,22M1249.4,671.4l22,-22" stroke="#2ca02c" stroke-width="2.0" fill="none"/>
<path d="M1316,639l22,22M1316,661l22,-22" stroke="#2ca02c" stroke-width="2.0" fill="none"/>
<path d="M1176.5,564.8l22,22M1176.5,586.8l22,-22" stroke="#9467bd" stroke-width="2.0" fill="none"/>
<path d="M1165,620l22,22M1165,642l22,-22" stroke="#9467bd" stroke-width="2.0" fill="none"/>
<path d="M1077.3,478.6l22,22M1077.3,500.6l22,-22" stroke="#d62728" stroke-width="2.0" fill="none"/>
<path d="M1095.7,580.5l22,22M1095.7,602.5l22,-22" stroke="#d62728" stroke-width="2.0" fill="none"/>
<use href="#mX" x="1349" y="622.5" opacity="0.5"/>
<use href="#mX" x="1412.5" y="582.9" opacity="0.5"/>
<use href="#mX" x="1411.5" y="593.3" opacity="0.5"/>
<use href="#mX" x="1429.2" y="595.4" opacity="0.5"/>
<use href="#mX" x="1445.5" y="589.4" opacity="0.5"/>
<use href="#mX" x="1477.5" y="588.5" opacity="0.5"/>
<use href="#mX" x="1432.3" y="671.9" opacity="0.5"/>
<use href="#mX" x="1565.5" y="654" opacity="0.5"/>
<use href="#mX" x="1548.2" y="627.2" opacity="0.5"/>
<use href="#mX" x="1593.3" y="644.6" opacity="0.5"/>
<use href="#mX" x="1598.9" y="657.8" opacity="0.5"/>
<use href="#mX" x="1624.6" y="666.1" opacity="0.5"/>
<use href="#mX" x="1562.8" y="671.7" opacity="0.5"/>
<use href="#mX" x="1615.6" y="691.1" opacity="0.5"/>
<use href="#mX" x="1564.2" y="657.8" opacity="0.5"/>
<use href="#mu" x="1529.5" y="682.5" opacity="0.5"/>
<use href="#mu" x="1565.6" y="640.1" opacity="0.5"/>
<use href="#mu" x="1530.8" y="678.3" opacity="0.5"/>
<use href="#mu" x="1519.7" y="686" opacity="0.5"/>
<use href="#mu" x="1515.3" y="698.5" opacity="0.5"/>
<use href="#mu" x="1574.6" y="677.6" opacity="0.5"/>
<use href="#mu" x="1587.8" y="684.6" opacity="0.5"/>
<use href="#mu" x="1576.7" y="700.6" opacity="0.5"/>
<use href="#mu" x="1535.7" y="658.6" opacity="0.5"/>
<use href="#mp" x="1290" y="556.9" opacity="0.5"/>
<use href="#mp" x="1309.4" y="582.9" opacity="0.5"/>
<use href="#mp" x="1305.8" y="605.8" opacity="0.5"/>
<use href="#mp" x="1374.6" y="599.6" opacity="0.5"/>
<use href="#mp" x="1281.7" y="646.9" opacity="0.5"/>
<use href="#mp" x="1330.2" y="662.5" opacity="0.5"/>
<use href="#mp" x="1391.7" y="666.7" opacity="0.5"/>
<use href="#mp" x="1417.7" y="694.8" opacity="0.5"/>
<use href="#mp" x="1455.1" y="652.9" opacity="0.5"/>
<use href="#mp" x="1454.4" y="656.6" opacity="0.5"/>
<use href="#mp" x="1484.7" y="616.8" opacity="0.5"/>
<use href="#mp" x="1536.4" y="653.6" opacity="0.5"/>
<use href="#mD" x="1277.7" y="511" opacity="0.5"/>
<use href="#mD" x="1330.2" y="515.2" opacity="0.5"/>
<use href="#mD" x="1371.9" y="512.7" opacity="0.5"/>
<use href="#mD" x="1319.8" y="525.6" opacity="0.5"/>
<use href="#mD" x="1341.7" y="549.6" opacity="0.5"/>
<use href="#mD" x="1364.6" y="553.3" opacity="0.5"/>
<use href="#mD" x="1327.1" y="562.1" opacity="0.5"/>
<use href="#mD" x="1327.5" y="562.5" opacity="0.5"/>
<use href="#mD" x="1342.7" y="580.8" opacity="0.5"/>
<use href="#mD" x="1220.8" y="570.4" opacity="0.5"/>
<use href="#mD" x="1252.1" y="575.6" opacity="0.5"/>
<use href="#mD" x="1241.7" y="602.7" opacity="0.5"/>
<use href="#mD" x="1275" y="600.6" opacity="0.5"/>
<use href="#mD" x="1414.6" y="577.7" opacity="0.5"/>
<use href="#mD" x="1436.5" y="614.2" opacity="0.5"/>
<use href="#mD" x="1212.5" y="617.3" opacity="0.5"/>
<use href="#mD" x="1193.8" y="622.5" opacity="0.5"/>
<use href="#mD" x="1316.7" y="632.9" opacity="0.5"/>
<use href="#mD" x="1221.9" y="668.8" opacity="0.5"/>
<use href="#mD" x="1157.3" y="654.2" opacity="0.5"/>
<use href="#mo" x="961.8" y="51.2" opacity="0.5"/>
<use href="#mo" x="1032.9" y="204.6" opacity="0.5"/>
<use href="#mo" x="1063.1" y="206.7" opacity="0.5"/>
<use href="#mo" x="1028.3" y="245.7" opacity="0.5"/>
<use href="#mo" x="997.8" y="272.4" opacity="0.5"/>
<use href="#mo" x="1090.6" y="235.3" opacity="0.5"/>
<use href="#mo" x="1101.2" y="245.3" opacity="0.5"/>
<use href="#mo" x="1100.3" y="271" opacity="0.5"/>
<use href="#mo" x="1114.9" y="271" opacity="0.5"/>
<use href="#mo" x="1130.8" y="271.7" opacity="0.5"/>
<use href="#mo" x="1078.1" y="282.1" opacity="0.5"/>
<use href="#mo" x="1094" y="284.2" opacity="0.5"/>
<use href="#mo" x="1109.3" y="275.8" opacity="0.5"/>
<use href="#mo" x="1132.9" y="280.7" opacity="0.5"/>
<use href="#mo" x="1094.7" y="289.7" opacity="0.5"/>
<use href="#mo" x="1121.1" y="288.3" opacity="0.5"/>
<use href="#mo" x="1162.8" y="287.6" opacity="0.5"/>
<use href="#mo" x="1161.4" y="295.3" opacity="0.5"/>
<use href="#mo" x="1070.5" y="302.8" opacity="0.5"/>
<use href="#mo" x="1093" y="306.8" opacity="0.5"/>
<use href="#mo" x="1121.5" y="288.5" opacity="0.5"/>
<use href="#mo" x="1111.3" y="319.1" opacity="0.5"/>
<use href="#mo" x="1121.5" y="310.9" opacity="0.5"/>
<use href="#mo" x="1112.3" y="337.4" opacity="0.5"/>
<use href="#mo" x="1139.8" y="308.9" opacity="0.5"/>
<use href="#mo" x="1144.9" y="323.1" opacity="0.5"/>
<use href="#mo" x="1156.1" y="313" opacity="0.5"/>
<use href="#mo" x="1175.4" y="321.1" opacity="0.5"/>
<use href="#mo" x="1176.5" y="340.4" opacity="0.5"/>
<use href="#mo" x="1198.1" y="303.1" opacity="0.5"/>
<use href="#mo" x="1207.8" y="307.2" opacity="0.5"/>
<use href="#mo" x="1190.4" y="307.2" opacity="0.5"/>
<use href="#mo" x="1195.3" y="317.6" opacity="0.5"/>
<use href="#mo" x="1156.4" y="314.2" opacity="0.5"/>
<use href="#mo" x="1230.7" y="331.5" opacity="0.5"/>
<use href="#mo" x="1209.2" y="340.6" opacity="0.5"/>
<use href="#mo" x="1214.7" y="343.3" opacity="0.5"/>
<use href="#mo" x="1175.8" y="341.9" opacity="0.5"/>
<use href="#mo" x="1155" y="339.2" opacity="0.5"/>
<use href="#mo" x="1221" y="355.8" opacity="0.5"/>
<use href="#mo" x="1182.1" y="361.4" opacity="0.5"/>
<use href="#mo" x="1207.8" y="366.9" opacity="0.5"/>
<use href="#mo" x="1212.6" y="366.9" opacity="0.5"/>
<use href="#mo" x="1145.3" y="361.4" opacity="0.5"/>
<use href="#mo" x="1159.9" y="373.9" opacity="0.5"/>
<use href="#mo" x="1138.3" y="301.7" opacity="0.5"/>
<use href="#mo" x="1069.2" y="355" opacity="0.5"/>
<use href="#mo" x="1065.7" y="363.3" opacity="0.5"/>
<use href="#mo" x="1085.1" y="347.4" opacity="0.5"/>
<use href="#mo" x="1096.9" y="362.6" opacity="0.5"/>
<use href="#mo" x="1103.9" y="353.6" opacity="0.5"/>
<use href="#mo" x="1131.7" y="373.1" opacity="0.5"/>
<use href="#mo" x="1137.2" y="357.8" opacity="0.5"/>
<use href="#mo" x="1159.4" y="378.6" opacity="0.5"/>
<use href="#mo" x="1148.3" y="380" opacity="0.5"/>
<use href="#mo" x="1184.4" y="389.7" opacity="0.5"/>
<use href="#mo" x="1181.7" y="360.6" opacity="0.5"/>
<use href="#mo" x="1085.1" y="407.1" opacity="0.5"/>
<use href="#mo" x="1088.6" y="424.4" opacity="0.5"/>
<use href="#mo" x="1055.3" y="443.2" opacity="0.5"/>
<use href="#mo" x="1121.9" y="440.4" opacity="0.5"/>
<use href="#mo" x="1142.1" y="424.4" opacity="0.5"/>
<use href="#mo" x="1158.1" y="416.1" opacity="0.5"/>
<use href="#mo" x="1165" y="407.8" opacity="0.5"/>
<use href="#mo" x="1162.2" y="399.4" opacity="0.5"/>
<use href="#mo" x="1183.1" y="442.5" opacity="0.5"/>
<use href="#mo" x="1208.1" y="425.8" opacity="0.5"/>
<use href="#mo" x="1220.6" y="428.6" opacity="0.5"/>
<use href="#mo" x="1240.7" y="390.4" opacity="0.5"/>
<use href="#mo" x="1246.9" y="398.1" opacity="0.5"/>
<use href="#mo" x="1246.9" y="424.4" opacity="0.5"/>
<use href="#mo" x="1242.8" y="436.9" opacity="0.5"/>
<use href="#mo" x="1312.5" y="392.4" opacity="0.5"/>
<use href="#mo" x="1276.4" y="400" opacity="0.5"/>
<use href="#mo" x="1269.4" y="406.2" opacity="0.5"/>
<use href="#mo" x="1229.2" y="408.3" opacity="0.5"/>
<use href="#mo" x="1223.6" y="410.4" opacity="0.5"/>
<use href="#mo" x="1247.2" y="425" opacity="0.5"/>
<use href="#mo" x="1219.4" y="431.9" opacity="0.5"/>
<use href="#mo" x="1241.7" y="438.2" opacity="0.5"/>
<use href="#mo" x="1277.1" y="445.4" opacity="0.5"/>
<use href="#mo" x="1049.8" y="474.2" opacity="0.5"/>
<use href="#mo" x="998.3" y="488.8" opacity="0.5"/>
<use href="#mo" x="1045.2" y="487.7" opacity="0.5"/>
<use href="#mo" x="1158.8" y="456.5" opacity="0.5"/>
<use href="#mo" x="1156.7" y="475.2" opacity="0.5"/>
<use href="#mo" x="1234.8" y="476.2" opacity="0.5"/>
<use href="#mo" x="1084.4" y="548.3" opacity="0.5"/>
<use href="#mo" x="1299" y="526.2" opacity="0.5"/>
<use href="#mo" x="1290.6" y="537.1" opacity="0.5"/>
<use href="#mo" x="1207.9" y="551.7" opacity="0.5"/>
<use href="#mo" x="1271.5" y="587.1" opacity="0.5"/>
<use href="#mo" x="1144.4" y="322.5" opacity="0.5"/>
<use href="#mo" x="1144.8" y="322.4" opacity="0.5"/>
<use href="#mo" x="1144.6" y="322.7" opacity="0.5"/>
<use href="#mo" x="1175.4" y="321" opacity="0.5"/>
<use href="#mo" x="1175.3" y="320.9" opacity="0.5"/>
<use href="#mo" x="1175.4" y="320.6" opacity="0.5"/>
<use href="#mo" x="1176.9" y="341.7" opacity="0.5"/>
<use href="#mo" x="1176.6" y="341.1" opacity="0.5"/>
<use href="#mo" x="1177.1" y="341.8" opacity="0.5"/>
<use href="#mo" x="1180.7" y="360.6" opacity="0.5"/>
<use href="#mo" x="1181.1" y="360.2" opacity="0.5"/>
<use href="#mo" x="1181" y="360.5" opacity="0.5"/>
<use href="#mo" x="1156.3" y="307.6" opacity="0.5"/>
<use href="#mo" x="1110.6" y="320.2" opacity="0.5"/>
<use href="#mo" x="1110.5" y="336.6" opacity="0.5"/>
<use href="#mo" x="1148.4" y="359.3" opacity="0.5"/>
<use href="#mo" x="1131.7" y="372.9" opacity="0.5"/>
<use href="#mo" x="1161.8" y="293.9" opacity="0.5"/>
<use href="#mo" x="1095.8" y="360.7" opacity="0.5"/>
<use href="#mo" x="1160.2" y="296.8" opacity="0.5"/>
<use href="#mo" x="1144" y="339.8" opacity="0.5"/>
<use href="#mo" x="1128.3" y="352.2" opacity="0.5"/>
<use href="#mo" x="1164.7" y="356.1" opacity="0.5"/>
<use href="#mo" x="1193" y="352.4" opacity="0.5"/>
<use href="#mo" x="1128.2" y="304.8" opacity="0.5"/>
<use href="#mo" x="1162.5" y="329.6" opacity="0.5"/>
<use href="#mo" x="1189.9" y="332.3" opacity="0.5"/>
<use href="#mo" x="1163.3" y="353.7" opacity="0.5"/>
<use href="#mo" x="1154.6" y="332.8" opacity="0.5"/>
<use href="#mo" x="1187.6" y="376.2" opacity="0.5"/>
<use href="#mo" x="1166" y="338" opacity="0.5"/>
<use href="#mo" x="1190.3" y="360" opacity="0.5"/>
<use href="#mo" x="1204.5" y="344.4" opacity="0.5"/>
<use href="#mo" x="1161.6" y="304.3" opacity="0.5"/>
<use href="#mo" x="1180.3" y="319.4" opacity="0.5"/>
<use href="#mo" x="1146.8" y="305.5" opacity="0.5"/>
<use href="#mo" x="1135.5" y="322.4" opacity="0.5"/>
<use href="#mo" x="1181.7" y="301.5" opacity="0.5"/>
<use href="#mo" x="1130.3" y="341.5" opacity="0.5"/>
<use href="#mo" x="1204.9" y="349.1" opacity="0.5"/>
<use href="#mo" x="1130.4" y="302.6" opacity="0.5"/>
<use href="#mo" x="1171.9" y="315.8" opacity="0.5"/>
<use href="#mo" x="1143" y="358.6" opacity="0.5"/>
<use href="#mo" x="1197.9" y="340" opacity="0.5"/>
<use href="#mo" x="1176.7" y="348.5" opacity="0.5"/>
<use href="#mv" x="1287.5" y="655.2" opacity="0.5"/>
<use href="#mv" x="1307.3" y="666.7" opacity="0.5"/>
<use href="#mv" x="1164.6" y="651" opacity="0.5"/>
<use href="#mv" x="1166.4" y="707.2" opacity="0.5"/>
<use href="#mv" x="1166" y="706.6" opacity="0.5"/>
<use href="#mv" x="1110.8" y="696.2" opacity="0.5"/>
<use href="#mv" x="1088.6" y="716.9" opacity="0.5"/>
<use href="#mv" x="1103.3" y="731.5" opacity="0.5"/>
<use href="#mv" x="1118.1" y="752.3" opacity="0.5"/>
<use href="#mv" x="1131.7" y="769.5" opacity="0.5"/>
<use href="#sq" x="1002.7" y="428.9"/>
<use href="#sq" x="1465.5" y="514.4"/>
<path d="M1087.2,707.2L1039,771" stroke="#d62728" stroke-width="5" stroke-dasharray="5 10.2" stroke-dashoffset="2.5" opacity="0.6" fill="none"/>
<path d="M1170.5,705L1080,773.5" stroke="#2ca02c" stroke-width="5" stroke-dasharray="5 10.3" stroke-dashoffset="0" opacity="0.6" fill="none"/>
<path d="M1211.5,709.4C1218.6,706.8 1240.2,697.8 1254.2,693.8C1268.2,689.8 1280.8,687.4 1295.8,685.4C1310.8,683.4 1334.3,681.8 1344.4,681.7C1354.5,681.6 1351.7,685.0 1356.2,685.0C1360.8,685.0 1364.6,682.2 1371.9,681.9C1379.2,681.6 1388.4,681.8 1400.0,683.3C1411.6,684.8 1426.6,687.5 1441.7,690.6C1456.8,693.7 1478.3,699.1 1490.6,702.0C1502.9,704.9 1506.1,705.9 1515.3,708.2C1524.5,710.5 1538.5,713.8 1546.0,715.8C1553.5,717.8 1556.0,718.9 1560.0,720.3C1564.0,721.6 1568.5,723.3 1570.2,723.9L1572.5,724.3L1583.6,704.7" fill="none" stroke="#17becf" stroke-width="6.0" stroke-linejoin="miter"/>
<path d="M1176.5,702.3C1182.5,698.8 1198.5,688.2 1212.5,681.2C1226.5,674.3 1248.2,665.3 1260.4,660.4C1272.6,655.5 1276.0,653.7 1285.4,652.0C1294.8,650.3 1309.8,650.3 1316.7,650.0C1323.6,649.7 1320.1,649.7 1327.0,650.0C1333.9,650.3 1347.9,650.6 1358.3,652.0C1368.7,653.4 1375.7,654.5 1389.6,658.3C1403.5,662.1 1424.9,669.6 1441.7,675.0C1458.5,680.4 1471.9,684.5 1490.6,690.8C1509.3,697.1 1543.2,709.3 1553.8,713.0" fill="none" stroke="#2ca02c" stroke-width="6.0" stroke-linejoin="miter"/>
<path d="M1118.4,272.7C1120.1,280.6 1125.8,307.4 1128.5,320.0C1131.2,332.6 1130.8,331.3 1134.7,348.0C1138.6,364.7 1146.3,398.0 1152.0,420.0C1157.7,442.0 1164.4,464.8 1169.0,480.0C1173.6,495.2 1176.8,499.8 1179.6,511.2C1182.4,522.7 1184.5,538.0 1185.8,548.8C1187.1,559.5 1187.5,567.8 1187.5,575.8C1187.5,583.8 1186.8,590.1 1185.8,596.7C1184.8,603.3 1183.3,609.7 1181.7,615.4C1180.1,621.1 1179.8,623.3 1176.0,631.0C1172.2,638.7 1165.5,651.6 1158.8,661.7C1152.0,671.9 1139.6,686.9 1135.8,691.9" fill="none" stroke="#9467bd" stroke-width="6.0" stroke-linejoin="miter"/>
<path d="M1021.3,24.0C1023.4,43.3 1027.5,90.7 1033.8,140.0C1040.0,189.3 1049.7,261.7 1058.8,320.0C1067.8,378.3 1081.7,451.5 1088.3,489.6C1094.9,527.7 1095.2,531.8 1098.3,548.8C1101.4,565.7 1104.4,579.3 1106.7,591.5C1109.0,603.7 1110.9,613.6 1111.9,621.7C1112.9,629.8 1112.7,635.0 1112.5,640.0C1112.3,645.0 1111.5,648.5 1110.8,652.0C1110.0,655.5 1109.3,657.4 1108.0,661.0C1106.7,664.6 1104.7,669.2 1103.0,673.5C1101.3,677.8 1098.8,684.3 1098.0,686.5" fill="none" stroke="#d62728" stroke-width="6.0" stroke-linejoin="miter"/>
<path d="M0.00,-13.20L2.96,-4.08L12.55,-4.08L4.80,1.56L7.76,10.68L0.00,5.04L-7.76,10.68L-4.80,1.56L-12.55,-4.08L-2.96,-4.08Z" transform="translate(1098.3,687.7)" fill="none" stroke="#d62728" stroke-width="2.4" stroke-linejoin="round"/>
<path d="M-3.43,-10.30L3.43,-10.30L3.43,-3.43L10.30,-3.43L10.30,3.43L3.43,3.43L3.43,10.30L-3.43,10.30L-3.43,3.43L-10.30,3.43L-10.30,-3.43L-3.43,-3.43Z" transform="translate(1135.8,691.9)" fill="none" stroke="#9467bd" stroke-width="2.2" stroke-linejoin="miter"/>
<rect x="1161.1" y="694.4" width="20.4" height="20.4" fill="none" stroke="#2ca02c" stroke-width="2.0"/>
<rect x="1203.3" y="698.4" width="20.4" height="20.4" fill="none" stroke="#17becf" stroke-width="2.0"/>
</g>
<path d="M1030.3,131.8L988.4,89.9" stroke="#808080" stroke-width="3.7" fill="none"/>
<path d="M976.8,78.3L996.1,87.3L988.4,89.9L985.8,97.6Z" fill="#808080"/>
<path d="M1008.8,768.3L1053.5,730.2" stroke="#808080" stroke-width="3.7" fill="none"/>
<path d="M1066,719.6L1055.5,738.1L1053.5,730.2L1046.1,727Z" fill="#808080"/>
<rect x="99.7" y="24" width="692.4" height="747.9" fill="none" stroke="#000" stroke-width="1.9"/>
<path d="M187.6,771.9v13.5M285.1,771.9v13.5M382.6,771.9v13.5M480.1,771.9v13.5M577.6,771.9v13.5M675.1,771.9v13.5M772.6,771.9v13.5M99.7,771.9h-13.5M99.7,688.8h-13.5M99.7,605.7h-13.5M99.7,522.6h-13.5M99.7,439.5h-13.5M99.7,356.4h-13.5M99.7,273.3h-13.5M99.7,190.2h-13.5M99.7,107.1h-13.5M99.7,24h-13.5" stroke="#000" stroke-width="1.3" fill="none"/>
<rect x="946.8" y="24" width="692.1" height="747.9" fill="none" stroke="#1a1a1a" stroke-width="1.3"/>
<path d="M946.8,771.9v13.5M1085.2,771.9v13.5M1223.6,771.9v13.5M1362,771.9v13.5M1500.4,771.9v13.5M1638.8,771.9v13.5M946.8,718.5h-13.5M946.8,611.6h-13.5M946.8,504.8h-13.5M946.8,398h-13.5M946.8,291.1h-13.5M946.8,184.3h-13.5M946.8,77.4h-13.5" stroke="#1a1a1a" stroke-width="1.3" fill="none"/>
<text x="187.6" y="813.8" font-size="23.4" text-anchor="middle" textLength="27.2" lengthAdjust="spacingAndGlyphs">45</text>
<text x="285.1" y="813.8" font-size="23.4" text-anchor="middle" textLength="27.2" lengthAdjust="spacingAndGlyphs">50</text>
<text x="382.6" y="813.8" font-size="23.4" text-anchor="middle" textLength="27.2" lengthAdjust="spacingAndGlyphs">55</text>
<text x="480.1" y="813.8" font-size="23.4" text-anchor="middle" textLength="27.2" lengthAdjust="spacingAndGlyphs">60</text>
<text x="577.6" y="813.8" font-size="23.4" text-anchor="middle" textLength="27.2" lengthAdjust="spacingAndGlyphs">65</text>
<text x="675.1" y="813.8" font-size="23.4" text-anchor="middle" textLength="27.2" lengthAdjust="spacingAndGlyphs">70</text>
<text x="772.6" y="813.8" font-size="23.4" text-anchor="middle" textLength="27.2" lengthAdjust="spacingAndGlyphs">75</text>
<text x="75.2" y="779" font-size="23.4" text-anchor="end" textLength="14.3" lengthAdjust="spacingAndGlyphs">0</text>
<text x="75.2" y="695.9" font-size="23.4" text-anchor="end" textLength="14.3" lengthAdjust="spacingAndGlyphs">2</text>
<text x="75.2" y="612.8" font-size="23.4" text-anchor="end" textLength="14.3" lengthAdjust="spacingAndGlyphs">4</text>
<text x="75.2" y="529.7" font-size="23.4" text-anchor="end" textLength="14.3" lengthAdjust="spacingAndGlyphs">6</text>
<text x="75.2" y="446.6" font-size="23.4" text-anchor="end" textLength="14.3" lengthAdjust="spacingAndGlyphs">8</text>
<text x="75.2" y="363.5" font-size="23.4" text-anchor="end" textLength="24" lengthAdjust="spacingAndGlyphs">10</text>
<text x="75.2" y="280.4" font-size="23.4" text-anchor="end" textLength="24" lengthAdjust="spacingAndGlyphs">12</text>
<text x="75.2" y="197.3" font-size="23.4" text-anchor="end" textLength="24" lengthAdjust="spacingAndGlyphs">14</text>
<text x="75.2" y="114.2" font-size="23.4" text-anchor="end" textLength="24" lengthAdjust="spacingAndGlyphs">16</text>
<text x="75.2" y="31.1" font-size="23.4" text-anchor="end" textLength="24" lengthAdjust="spacingAndGlyphs">18</text>
<text x="946.8" y="813.8" font-size="23.4" text-anchor="middle" textLength="29.6" lengthAdjust="spacingAndGlyphs">50</text>
<text x="1086" y="813.8" font-size="23.4" text-anchor="middle" textLength="27" lengthAdjust="spacingAndGlyphs">55</text>
<text x="1225.5" y="813.8" font-size="23.4" text-anchor="middle" textLength="29.3" lengthAdjust="spacingAndGlyphs">60</text>
<text x="1365" y="813.8" font-size="23.4" text-anchor="middle" textLength="27.5" lengthAdjust="spacingAndGlyphs">65</text>
<text x="1503.9" y="813.8" font-size="23.4" text-anchor="middle" textLength="28" lengthAdjust="spacingAndGlyphs">70</text>
<text x="1644.3" y="813.8" font-size="23.4" text-anchor="middle" textLength="26.5" lengthAdjust="spacingAndGlyphs">75</text>
<text x="920.5" y="725.6" font-size="23.4" text-anchor="end" textLength="14" lengthAdjust="spacingAndGlyphs">8</text>
<text x="920.5" y="618.7" font-size="23.4" text-anchor="end" textLength="24" lengthAdjust="spacingAndGlyphs">10</text>
<text x="920.5" y="511.9" font-size="23.4" text-anchor="end" textLength="24" lengthAdjust="spacingAndGlyphs">12</text>
<text x="920.5" y="405.1" font-size="23.4" text-anchor="end" textLength="24" lengthAdjust="spacingAndGlyphs">14</text>
<text x="920.5" y="298.2" font-size="23.4" text-anchor="end" textLength="24" lengthAdjust="spacingAndGlyphs">16</text>
<text x="920.5" y="191.4" font-size="23.4" text-anchor="end" textLength="24" lengthAdjust="spacingAndGlyphs">18</text>
<text x="920.5" y="84.5" font-size="23.4" text-anchor="end" textLength="27.5" lengthAdjust="spacingAndGlyphs">20</text>
<text transform="translate(23.1,397.7) rotate(-90)" font-size="27.5" text-anchor="middle" textLength="219.4" lengthAdjust="spacingAndGlyphs">Na<tspan font-size="18.5" dy="8.4">2</tspan><tspan dy="-8.4">O + K</tspan><tspan font-size="18.5" dy="8.4">2</tspan><tspan dy="-8.4">O (wt%)</tspan></text>
<text x="379.9" y="854.7" font-size="27.5" textLength="131.8" lengthAdjust="spacingAndGlyphs">SiO<tspan font-size="18.5" dy="8.4">2</tspan><tspan dy="-8.4"> (wt%)</tspan></text>
<text transform="translate(866,397.7) rotate(-90)" font-size="27.5" text-anchor="middle" textLength="219.4" lengthAdjust="spacingAndGlyphs">Na<tspan font-size="18.5" dy="8.4">2</tspan><tspan dy="-8.4">O + K</tspan><tspan font-size="18.5" dy="8.4">2</tspan><tspan dy="-8.4">O (wt%)</tspan></text>
<text x="1227.5" y="854.7" font-size="27.5" textLength="131.8" lengthAdjust="spacingAndGlyphs">SiO<tspan font-size="18.5" dy="8.4">2</tspan><tspan dy="-8.4"> (wt%)</tspan></text>
<text x="0.3" y="29.2" font-size="36.6" textLength="20.7" lengthAdjust="spacingAndGlyphs" font-weight="bold" stroke="#000" stroke-width="0.7">a</text>
<text x="843.6" y="29.4" font-size="41" textLength="26.7" lengthAdjust="spacingAndGlyphs" font-weight="bold" stroke="#000" stroke-width="0.7">b</text>
<text x="138.2" y="75.8" font-size="23.2" textLength="107" lengthAdjust="spacingAndGlyphs">Fractional</text>
<text x="138.2" y="103.3" font-size="23.2" textLength="88.5" lengthAdjust="spacingAndGlyphs">(to 95%)</text>
<text x="331.5" y="158.5" font-size="22.6" text-anchor="middle" textLength="39.2" lengthAdjust="spacingAndGlyphs">cpx</text>
<text x="331.5" y="186.7" font-size="22.6" text-anchor="middle" textLength="54.9" lengthAdjust="spacingAndGlyphs">(aeg)</text>
<text x="688.7" y="247.8" font-size="22.6" text-anchor="middle" textLength="33.9" lengthAdjust="spacingAndGlyphs">fsp</text>
<text x="688.7" y="275.8" font-size="22.6" text-anchor="middle" textLength="42.4" lengthAdjust="spacingAndGlyphs">(ab)</text>
<text x="407.5" y="279.8" font-size="23.2" textLength="110.6" lengthAdjust="spacingAndGlyphs">Continues</text>
<text x="408.5" y="307.7" font-size="22.8" textLength="40" lengthAdjust="spacingAndGlyphs">in <tspan font-weight="bold">b</tspan></text>
<text x="461.7" y="450.6" font-size="23.2" textLength="45.8" lengthAdjust="spacingAndGlyphs">95%</text>
<text x="101.5" y="716.7" font-size="22.6" textLength="19.9" lengthAdjust="spacingAndGlyphs">ol</text>
<text x="101.8" y="743.4" font-size="22.8" textLength="60" lengthAdjust="spacingAndGlyphs">(Fo<tspan font-size="15" dy="7">90</tspan><tspan dy="-7">)</tspan></text>
<text x="190.7" y="724.3" font-size="22.6" text-anchor="middle" textLength="33.9" lengthAdjust="spacingAndGlyphs">fsp</text>
<text x="190.7" y="751.6" font-size="22.6" text-anchor="middle" textLength="41.9" lengthAdjust="spacingAndGlyphs">(an)</text>
<text x="233.8" y="744.7" font-size="22.6" textLength="88.9" lengthAdjust="spacingAndGlyphs">cpx (hd)</text>
<text x="354.6" y="741.7" font-size="22.6" textLength="80.9" lengthAdjust="spacingAndGlyphs">cpx (di)</text>
<text x="284.2" y="706.3" font-size="22.6" textLength="52.5" lengthAdjust="spacingAndGlyphs">inset</text>
<path d="M516,58.1h21.8m8.7,0h4.5" stroke="#bcbd22" stroke-width="6.2" fill="none"/>
<text x="568.7" y="63.5" font-size="19.2" textLength="51.8" lengthAdjust="spacingAndGlyphs">1 kbar</text>
<path d="M516,92h21.8m8.7,0h4.5" stroke="#2ca02c" stroke-width="6.2" fill="none"/>
<text x="568.7" y="98" font-size="19.2" textLength="54.6" lengthAdjust="spacingAndGlyphs">4 kbar</text>
<path d="M516,126.1h21.8m8.7,0h4.5" stroke="#d62728" stroke-width="6.2" fill="none"/>
<text x="568.7" y="131.5" font-size="19.2" textLength="54.6" lengthAdjust="spacingAndGlyphs">5 kbar</text>
<path d="M663.1,58.1h21.8m8.7,0h4.5" stroke="#00008b" stroke-width="6.2" fill="none"/>
<text x="714.3" y="64.8" font-size="19.2" textLength="55.6" lengthAdjust="spacingAndGlyphs">6 kbar</text>
<path d="M663.1,92h21.8m8.7,0h4.5" stroke="#e377c2" stroke-width="6.2" fill="none"/>
<text x="714.3" y="98" font-size="19.2" textLength="53.6" lengthAdjust="spacingAndGlyphs">7 kbar</text>
<path d="M663.1,126.1h21.8m8.7,0h4.5" stroke="#8c564b" stroke-width="6.2" fill="none"/>
<text x="714.3" y="129.7" font-size="19.2" textLength="64.6" lengthAdjust="spacingAndGlyphs">10 kbar</text>
<path d="M1282.2,54.4h52.2" stroke="#d62728" stroke-width="5.8" fill="none"/>
<text x="1348.7" y="61.5" font-size="20" textLength="71.4" lengthAdjust="spacingAndGlyphs">5.0 kbar</text>
<path d="M1282.2,88.7h52.2" stroke="#9467bd" stroke-width="5.8" fill="none"/>
<text x="1348.7" y="95.2" font-size="20" textLength="71.4" lengthAdjust="spacingAndGlyphs">4.5 kbar</text>
<path d="M1462.1,53.9h52.2" stroke="#2ca02c" stroke-width="5.8" fill="none"/>
<text x="1528.6" y="59.5" font-size="20" textLength="72.4" lengthAdjust="spacingAndGlyphs">4.0 kbar</text>
<path d="M1462.1,88.7h52.2" stroke="#17becf" stroke-width="5.8" fill="none"/>
<text x="1528.6" y="95.2" font-size="20" textLength="70.2" lengthAdjust="spacingAndGlyphs">3.5 kbar</text>
<text x="1177.5" y="151.3" font-size="27.8" textLength="418" lengthAdjust="spacingAndGlyphs">Batch crystallization of final melt</text>
<text x="1277.2" y="208" font-size="24.6" textLength="270.2" lengthAdjust="spacingAndGlyphs">Silica-oversaturated melt</text>
<text x="1277.2" y="250.1" font-size="24.6" textLength="223.5" lengthAdjust="spacingAndGlyphs">Silica-saturated melt</text>
<text x="1277.2" y="286.8" font-size="24.6" textLength="286.4" lengthAdjust="spacingAndGlyphs">Silica-undersaturated melt</text>
<rect x="1240.5" y="189.5" width="21.4" height="21.4" fill="none" stroke="#000" stroke-width="2.0"/>
<path d="M-3.58,-10.75L3.58,-10.75L3.58,-3.58L10.75,-3.58L10.75,3.58L3.58,3.58L3.58,10.75L-3.58,10.75L-3.58,3.58L-10.75,3.58L-10.75,-3.58L-3.58,-3.58Z" transform="translate(1251.1,240.7)" fill="none" stroke="#000" stroke-width="2.0" stroke-linejoin="miter"/>
<path d="M0.00,-13.00L2.92,-4.02L12.36,-4.02L4.72,1.53L7.64,10.52L0.00,4.97L-7.64,10.52L-4.72,1.53L-12.36,-4.02L-2.92,-4.02Z" transform="translate(1251,280.6)" fill="none" stroke="#000" stroke-width="2.0" stroke-linejoin="round"/>
<text x="986.9" y="136" font-size="22.6" text-anchor="middle" textLength="22.1" lengthAdjust="spacingAndGlyphs">to</text>
<text x="986.9" y="163.3" font-size="22.6" text-anchor="middle" textLength="41.6" lengthAdjust="spacingAndGlyphs">nph</text>
<text x="1002.3" y="365" font-size="22.6" text-anchor="middle" textLength="38.7" lengthAdjust="spacingAndGlyphs">cpx</text>
<text x="1002.3" y="392.8" font-size="22.6" text-anchor="middle" textLength="54.7" lengthAdjust="spacingAndGlyphs">(aeg)</text>
<text x="1505.6" y="484" font-size="22.6" text-anchor="middle" textLength="33.9" lengthAdjust="spacingAndGlyphs">fsp</text>
<text x="1505.6" y="511.7" font-size="22.6" text-anchor="middle" textLength="41.7" lengthAdjust="spacingAndGlyphs">(ab)</text>
<text x="1040" y="525.4" font-size="23.2" textLength="45.8" lengthAdjust="spacingAndGlyphs">99%</text>
<text x="1049.8" y="608.1" font-size="23.2" textLength="45.4" lengthAdjust="spacingAndGlyphs">98%</text>
<text x="1057.8" y="658.5" font-size="23.2" textLength="45.3" lengthAdjust="spacingAndGlyphs">95%</text>
<text x="959" y="717.5" font-size="18.2" textLength="82.1" lengthAdjust="spacingAndGlyphs">Evolution</text>
<text x="959.8" y="740.4" font-size="18.2" textLength="57" lengthAdjust="spacingAndGlyphs">from <tspan font-weight="bold">a</tspan></text>
</svg>
</body></html>
